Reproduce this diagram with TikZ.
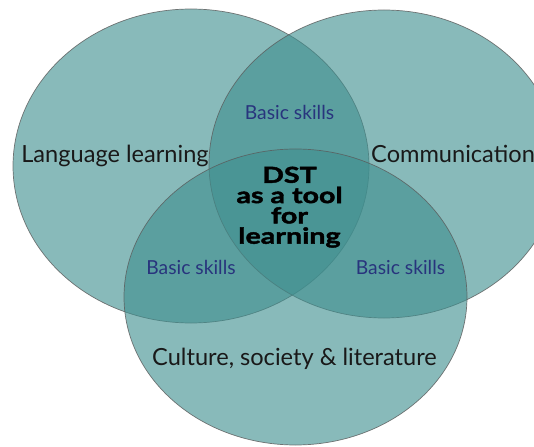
\documentclass[tikz,border=0pt]{standalone}
\usepackage{fontspec}
\setmainfont{Lato}
\newfontfamily\corefont{Lato}[BoldFeatures={FakeBold=2,FakeStretch=1.3}]
\definecolor{vennfill}{RGB}{63,143,143}
\definecolor{venndraw}{RGB}{90,90,90}
\definecolor{skillblue}{RGB}{40,52,125}
\begin{document}
\begin{tikzpicture}[x=1pt,y=-1pt,
  set/.style={fill=vennfill,fill opacity=0.62,draw=venndraw,draw opacity=0.8,line width=0.7pt},
  label/.style={text=black!90,font=\fontsize{23.6}{26}\selectfont,inner sep=0pt},
  skill/.style={text=skillblue,font=\fontsize{19.3}{21}\selectfont,inner sep=0pt},
  core/.style={text=black,font=\corefont\bfseries\fontsize{22}{20.3}\selectfont,align=center,inner sep=0pt}]
  \useasboundingbox (0,0) rectangle (534,446);
  % the three overlapping sets
  \path[set] (191,166) ellipse [x radius=178, y radius=157];
  \path[set] (384,164) ellipse [x radius=175, y radius=154];
  \path[set] (295.5,297) ellipse [x radius=171.5, y radius=148];
  % set labels
  \node[label,anchor=base] (lang) at (115,163) {Language learning};
  \node[label,anchor=base west] (comm) at (371,163) {Communication};
  \node[label,anchor=base] (cult) at (294.5,365) {Culture, society \& literature};
  % pairwise overlaps
  \node[skill,anchor=base] (s1) at (289.5,120) {Basic skills};
  \node[skill,anchor=base] (s2) at (191,274) {Basic skills};
  \node[skill,anchor=base] (s3) at (400.5,274) {Basic skills};
  % common centre
  \node[core,anchor=north] (dst) at (289.5,166.5) {DST\\as a tool\\for\\learning};
\end{tikzpicture}
\end{document}
